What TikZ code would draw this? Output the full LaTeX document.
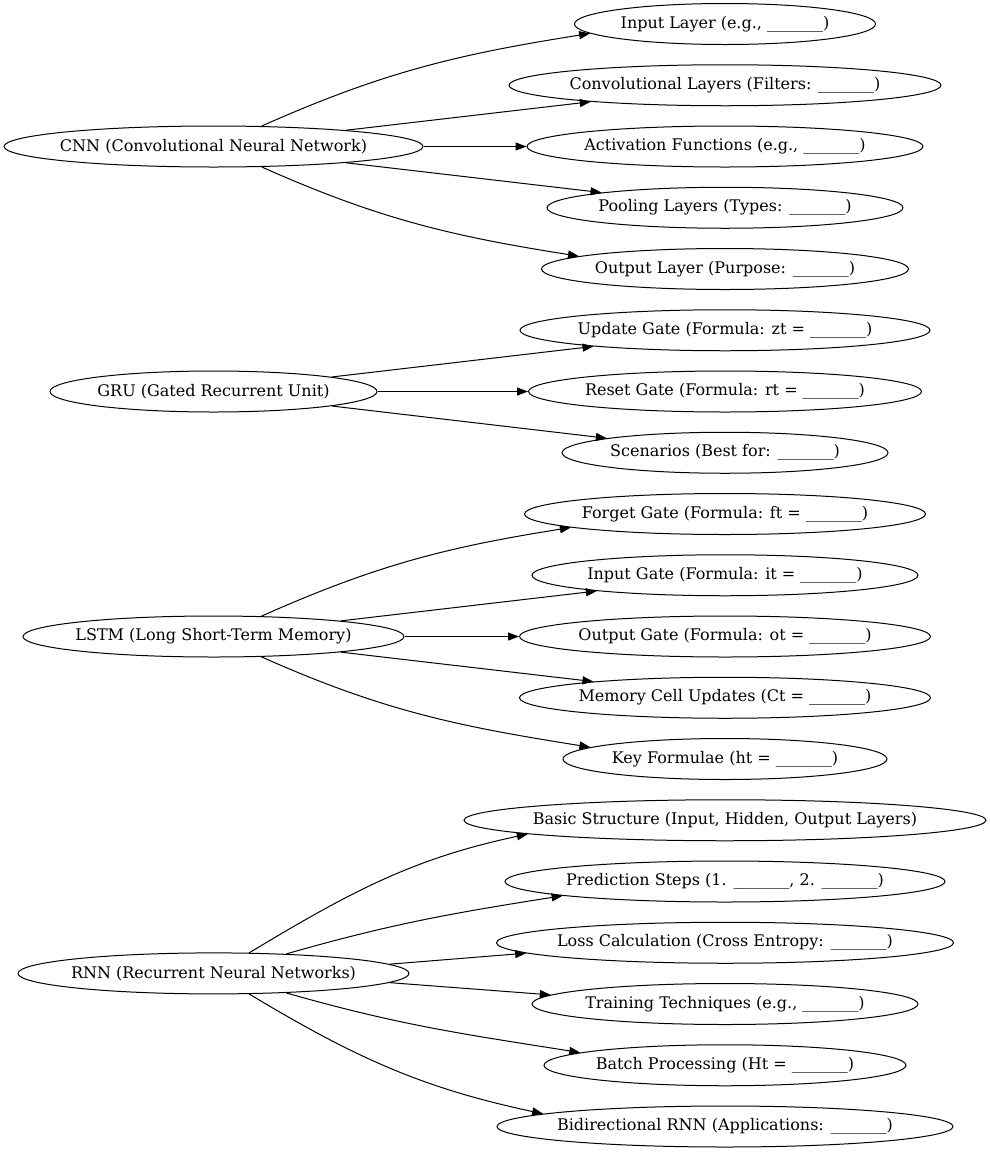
\documentclass[tikz,border=0pt]{standalone}
\usepackage{fontspec}
\setmainfont{DejaVu Serif}
\usepackage{tikz}
\usetikzlibrary{arrows.meta, positioning, shapes.geometric}
\tikzset{->,>={Triangle[length=11pt,width=8pt]},
    node distance=61.25pt,
    oval/.style={ellipse,draw,font=\fontsize{16}{19}\selectfont,
        minimum height=41pt,inner xsep=-20pt,inner ysep=0pt},
    topic/.style={oval,minimum width=#1},
    part/.style={oval,minimum width=#1}}
\newcommand{\fillgap}{\_\_\_\_\_\_\_}

\begin{document}
\begin{tikzpicture}
[x=1pt,y=1pt,line width=1pt]
\useasboundingbox (0,0) rectangle (990,-1152);

\node[topic=419pt] (cnn) at (213.5,-146.5) {CNN (Convolutional Neural Network)};
\node[part=301pt] (inlayer) at (725,-24) {Input Layer (e.g., \fillgap)};
\node[part=432pt] (conv) [below of = inlayer] {Convolutional Layers (Filters: \fillgap)};
\node[part=396pt] (act) [below of = conv] {Activation Functions (e.g., \fillgap)};
\node[part=356pt] (pool) [below of = act] {Pooling Layers (Types: \fillgap)};
\node[part=367pt] (outlayer) [below of = pool] {Output Layer (Purpose: \fillgap)};

\node[topic=327pt] (gru) at (213.5,-391.5) {GRU (Gated Recurrent Unit)};
\node[part=410pt] (update) [below of = outlayer] {Update Gate (Formula: zt = \fillgap)};
\node[part=393pt] (reset) [below of = update] {Reset Gate (Formula: rt = \fillgap)};
\node[part=326pt] (scen) [below of = reset] {Scenarios (Best for: \fillgap)};

\node[topic=381pt] (lstm) at (213.5,-636.5) {LSTM (Long Short-Term Memory)};
\node[part=401pt] (forget) [below of = scen] {Forget Gate (Formula: ft = \fillgap)};
\node[part=386pt] (ingate) [below of = forget] {Input Gate (Formula: it = \fillgap)};
\node[part=411pt] (outgate) [below of = ingate] {Output Gate (Formula: ot = \fillgap)};
\node[part=411pt] (memory) [below of = outgate] {Memory Cell Updates (Ct = \fillgap)};
\node[part=324pt] (keyf) [below of = memory] {Key Formulae (ht = \fillgap)};

\node[topic=391pt] (rnn) at (213.5,-973.4) {RNN (Recurrent Neural Networks)};
\node[part=522pt] (basic) [below of = keyf] {Basic Structure (Input, Hidden, Output Layers)};
\node[part=440pt] (predict) [below of = basic] {Prediction Steps (1. \fillgap, 2. \fillgap)};
\node[part=457pt] (loss) [below of = predict] {Loss Calculation (Cross Entropy: \fillgap)};
\node[part=386pt] (train) [below of = loss] {Training Techniques (e.g., \fillgap)};
\node[part=362pt] (batch) [below of = train] {Batch Processing (Ht = \fillgap)};
\node[part=456pt] (bidir) [below of = batch] {Bidirectional RNN (Applications: \fillgap)};

\path
    (cnn.23)    edge [out=24, in=189]   (inlayer.184)
    (cnn.7)     edge                    (conv.187)
    (cnn.east)  edge                    (act.west)
    (cnn.-7)    edge                    (pool.173)
    (cnn.-23)   edge [out=-24, in=171]  (outlayer.175);

\path
    (gru.7)     edge                    (update.187)
    (gru.east)  edge                    (reset.west)
    (gru.-7)    edge                    (scen.173);

\path
    (lstm.23)   edge [out=24, in=189]   (forget.185)
    (lstm.7)    edge                    (ingate.187)
    (lstm.east) edge                    (outgate.west)
    (lstm.-7)   edge                    (memory.173)
    (lstm.-23)  edge [out=-24, in=171]  (keyf.175);

\path
    (rnn.30)    edge [out=31, in=192]   (basic.184)
    (rnn.15)    edge [out=16, in=189]   (predict.185)
    (rnn.3)     edge                    (loss.183)
    (rnn.-3)    edge                    (train.177)
    (rnn.-15)   edge [out=-16, in=171]  (batch.175)
    (rnn.-30)   edge [out=-31, in=168]  (bidir.176);
\end{tikzpicture}
\end{document}
